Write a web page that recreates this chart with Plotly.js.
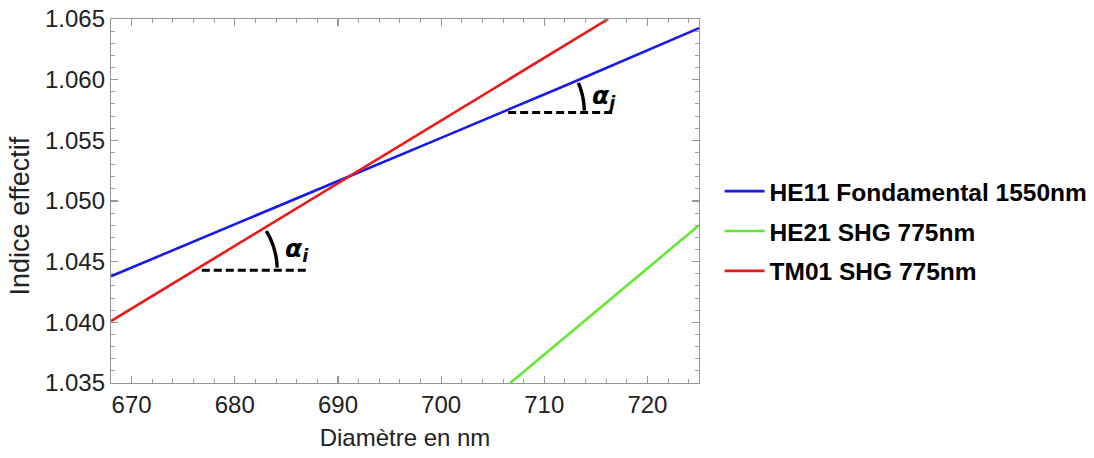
<!DOCTYPE html>
<html>
<head>
<meta charset="utf-8">
<script src="https://cdn.plot.ly/plotly-3.0.1.min.js"></script>
<style>html,body{margin:0;padding:0;background:#fff;}#chart{width:1094px;height:458px;}</style>
</head>
<body>
<div id="chart"></div>
<script>
// Data
const seriesNames = ["HE11 Fondamental 1550nm", "HE21 SHG 775nm", "TM01 SHG 775nm"];
const he11X = [668, 680, 691, 700, 712, 725];
const he11Y = [1.0438, 1.0481, 1.0520, 1.0552, 1.0595, 1.06425];
const he21X = [706.7, 715, 725];
const he21Y = [1.0350, 1.0409, 1.0480];
const tm01X = [668, 680, 691, 700, 716.2];
const tm01Y = [1.0401, 1.0463, 1.0520, 1.0566, 1.0650];
const xTicks = [670, 680, 690, 700, 710, 720];
const yTicks = [1.035, 1.040, 1.045, 1.050, 1.055, 1.060, 1.065];

// angle annotations
const angleI = {x0: 676.8, x1: 687.1, y: 1.0443, label: "i"};
const angleJ = {x0: 706.5, x1: 716.9, y: 1.0573, label: "j"};

const W = 1094, H = 458;
const M = {l: 111, r: 395, t: 19, b: 75, autoexpand: false};
const xRange = [668, 725], yRange = [1.035, 1.065];
const pxPerX = (W - M.l - M.r) / (xRange[1] - xRange[0]);
const pxPerY = (H - M.t - M.b) / (yRange[1] - yRange[0]);

const colors = ["rgb(25,25,235)", "rgb(100,232,50)", "rgb(235,25,25)"];
const font = "Liberation Sans, Arial, sans-serif";

const traces = [
  {x: he11X, y: he11Y, name: seriesNames[0], color: colors[0], g: "a"},
  {x: he21X, y: he21Y, name: seriesNames[1], color: colors[1], g: "b"},
  {x: tm01X, y: tm01Y, name: seriesNames[2], color: colors[2], g: "c"}
].map(t => ({x: t.x, y: t.y, name: t.name, type: "scatter", mode: "lines", legendgroup: t.g,
  line: {color: t.color, width: 2.6}}));

function slopeAng(xs, ys) {
  const n = xs.length;
  const dy = (ys[n-1] - ys[0]) * pxPerY, dx = (xs[n-1] - xs[0]) * pxPerX;
  return Math.atan2(dy, dx);
}
function arcPath(a, theta) {
  const r = (a.x1 - a.x0) * pxPerX * 0.71;
  let p = "";
  const n = 16;
  for (let k = 0; k <= n; k++) {
    const ang = theta * (0.06 + 0.94 * k / n);
    const x = a.x0 + r * Math.cos(ang) / pxPerX;
    const y = a.y + r * Math.sin(ang) / pxPerY;
    p += (k === 0 ? "M" : "L") + x + "," + y + " ";
  }
  return p;
}
const thI = slopeAng(tm01X, tm01Y);
const thJ = slopeAng(he11X, he11Y);

const dashStyle = {color: "black", width: 3, dash: "8px,4px"};
const shapes = [
  {type: "line", xref: "x", yref: "y", x0: angleI.x0, x1: angleI.x1, y0: angleI.y, y1: angleI.y, line: dashStyle},
  {type: "line", xref: "x", yref: "y", x0: angleJ.x0, x1: angleJ.x1, y0: angleJ.y, y1: angleJ.y, line: dashStyle},
  {type: "path", xref: "x", yref: "y", path: arcPath(angleI, thI), line: {color: "black", width: 3.4}},
  {type: "path", xref: "x", yref: "y", path: arcPath(angleJ, thJ), line: {color: "black", width: 3.4}}
];

function alphaLabel(a, theta) {
  const r = (a.x1 - a.x0) * pxPerX * 0.71;
  return {xref: "x", yref: "y", x: a.x0 + r / pxPerX, y: a.y + r * Math.sin(theta / 2) / pxPerY,
    xanchor: "left", yanchor: "middle", xshift: 6, showarrow: false,
    text: "<b><i>α</i></b><sub><b><i>" + a.label + "</i></b></sub>",
    font: {family: "DejaVu Sans, sans-serif", size: 25, color: "black"}};
}

const layout = {
  width: W, height: H,
  margin: M,
  paper_bgcolor: "white", plot_bgcolor: "white",
  font: {family: font, size: 24, color: "#222"},
  showlegend: true,
  legend: {x: 1.035, y: 0.417, xanchor: "left", yanchor: "middle",
    font: {family: font, size: 24.5, color: "black", weight: "bold"},
    itemwidth: 40, traceorder: "grouped", tracegroupgap: 5, bgcolor: "rgba(0,0,0,0)"},
  xaxis: {range: xRange, tickvals: xTicks, ticktext: xTicks.map(String),
    showline: true, mirror: "ticks", linecolor: "rgb(150,150,150)", linewidth: 1.2,
    ticks: "inside", ticklen: 7, tickcolor: "rgb(150,150,150)", tickwidth: 1.2,
    minor: {dtick: 2, ticks: "inside", ticklen: 4, tickcolor: "rgb(160,160,160)", tickwidth: 1, showgrid: false},
    showgrid: false, zeroline: false,
    tickfont: {family: font, size: 24, color: "#222"},
    title: {text: "Diamètre en nm", font: {family: font, size: 24, color: "#222"}, standoff: 12}},
  yaxis: {range: yRange, tickvals: yTicks, ticktext: yTicks.map(v => v.toFixed(3)),
    showline: true, mirror: "ticks", linecolor: "rgb(150,150,150)", linewidth: 1.2,
    ticks: "inside", ticklen: 7, tickcolor: "rgb(150,150,150)", tickwidth: 1.2,
    minor: {dtick: 0.001, ticks: "inside", ticklen: 4, tickcolor: "rgb(160,160,160)", tickwidth: 1, showgrid: false},
    showgrid: false, zeroline: false,
    tickfont: {family: font, size: 24, color: "#222"}},
  shapes: shapes,
  annotations: [
    alphaLabel(angleI, thI), alphaLabel(angleJ, thJ),
    {xref: "paper", yref: "paper", x: -0.155, y: 0.46, xanchor: "center", yanchor: "middle",
     showarrow: false, textangle: -90, text: "Indice effectif",
     font: {family: font, size: 27, color: "#222"}}
  ]
};

Plotly.newPlot("chart", traces, layout, {displayModeBar: false, staticPlot: true});
</script>
</body>
</html>
